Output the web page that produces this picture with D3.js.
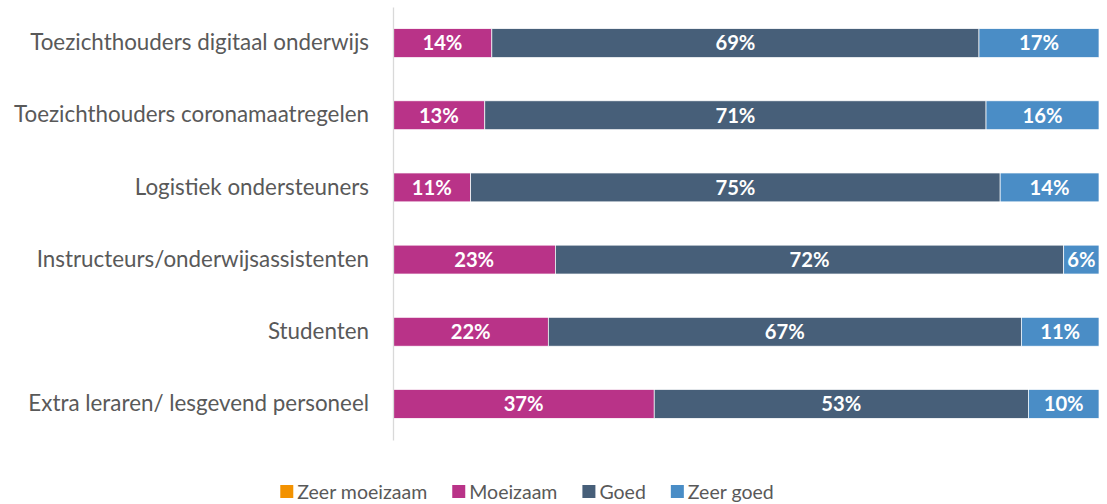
<!DOCTYPE html>
<html><head><meta charset="utf-8">
<script src="https://cdn.jsdelivr.net/npm/d3@7"></script>
<style>html,body{margin:0;padding:0;background:#fff;}svg{display:block;}</style>
</head><body>
<svg id="c" width="1107" height="504"></svg>
<script>
const categories = [
  "Toezichthouders digitaal onderwijs",
  "Toezichthouders coronamaatregelen",
  "Logistiek ondersteuners",
  "Instructeurs/onderwijsassistenten",
  "Studenten",
  "Extra leraren/ lesgevend personeel"
];
const seriesNames = ["Zeer moeizaam", "Moeizaam", "Goed", "Zeer goed"];
const zeerMoeizaam = [0, 0, 0, 0, 0, 0];
const moeizaam = [14, 13, 11, 23, 22, 37];
const goed = [69, 71, 75, 72, 67, 53];
const zeerGoed = [17, 16, 14, 6, 11, 10];
const colors = ["#F39200", "#B93388", "#475F79", "#4A8DC6"];

const FONT = "Lato, 'Open Sans', sans-serif";
const svg = d3.select("#c");
const seriesValues = [zeerMoeizaam, moeizaam, goed, zeerGoed];
const rows = categories.map((c, i) => {
  const r = {cat: c};
  seriesNames.forEach((s, k) => r[s] = seriesValues[k][i]);
  return r;
});
const stacked = d3.stack().keys(seriesNames)(rows);

const x = d3.scaleLinear().domain([0, 100]).range([393, 1099]).clamp(true);
const y = d3.scaleBand().domain(categories).range([7, 440]).paddingInner(0.6).paddingOuter(0.3);

function fitSize(text, target, weight) {
  const t = svg.append("text").attr("font-family", FONT).attr("font-size", 20)
    .attr("font-weight", weight || "normal").text(text);
  const w = t.node().getComputedTextLength();
  t.remove();
  return 20 * target / w;
}
const catSize = fitSize(categories[0], 339);
const legSize = fitSize("Zeer moeizaam", 130);
const lblSize = Math.min(fitSize("14%", 40, "bold"), catSize + 1);

// bars
const g = svg.append("g");
stacked.forEach((layer, k) => {
  g.selectAll(null).data(layer).enter().append("rect")
    .attr("x", d => x(d[0]))
    .attr("y", d => y(d.data.cat))
    .attr("width", d => Math.max(0, x(d[1]) - x(d[0])))
    .attr("height", y.bandwidth())
    .attr("fill", colors[k])
    .attr("stroke", "#fff").attr("stroke-width", 0.7);
  g.selectAll(null).data(layer.filter(d => d[1] - d[0] > 0)).enter().append("text")
    .attr("x", d => (x(d[0]) + x(d[1])) / 2)
    .attr("y", d => y(d.data.cat) + y.bandwidth() / 2)
    .attr("dy", "0.36em")
    .attr("text-anchor", "middle")
    .attr("font-family", FONT).attr("font-weight", "bold").attr("font-size", lblSize)
    .attr("fill", "#fff")
    .text(d => (d[1] - d[0]) + "%");
});

// y axis
const yAxis = d3.axisLeft(y).tickSize(0).tickPadding(24);
const ya = svg.append("g").attr("transform", "translate(393,0)").call(yAxis);
ya.select(".domain").attr("stroke", "#D9D9D9").attr("stroke-width", 1.3);
ya.selectAll("text").attr("font-family", FONT).attr("font-size", catSize).attr("fill", "#595959");

// legend
const leg = svg.append("g");
const items = [];
let cx = 0;
seriesNames.forEach((s, k) => {
  const it = leg.append("g");
  it.append("rect").attr("x", 0).attr("y", -7).attr("width", 13).attr("height", 13).attr("fill", colors[k]);
  const t = it.append("text").attr("x", 17).attr("y", 0).attr("dy", "0.35em")
    .attr("font-family", FONT).attr("font-size", legSize).attr("fill", "#595959").text(s);
  const w = 17 + t.node().getComputedTextLength();
  it.attr("transform", `translate(${cx},492)`);
  cx += w + 25;
});
const total = cx - 25;
leg.attr("transform", `translate(${527 - total / 2},0)`);
</script>
</body></html>
